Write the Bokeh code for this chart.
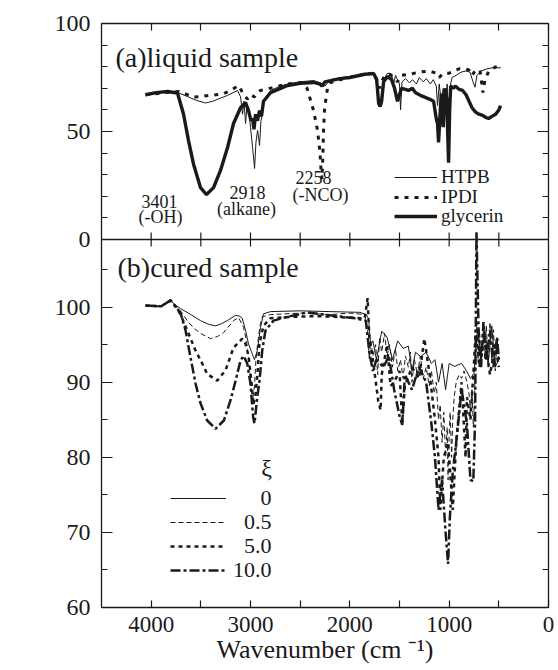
from math import pi
from bokeh.plotting import figure
from bokeh.models import (Range1d, FixedTicker, LinearAxis, Legend, LegendItem, Label, Span)
from bokeh.embed import file_html
from bokeh.resources import INLINE

FONT = "Liberation Serif"
INK = "#1a1a1a"

# ---------------- (a) liquid sample : % Transmittance ----------------
htpb_wn = [4057, 3950, 3850, 3735, 3650, 3550, 3453, 3380, 3300, 3231, 3130, 3100, 3080, 3065,
           3050, 3035, 3020, 3000, 2979, 2959, 2945, 2929, 2918, 2909, 2895, 2879, 2869, 2798,
           2700, 2627, 2500, 2365, 2300, 2250, 2200, 2000, 1850, 1760, 1730, 1710, 1695, 1680,
           1660, 1620, 1580, 1560, 1540, 1500, 1489, 1475, 1440, 1400, 1370, 1330, 1300, 1260,
           1230, 1190, 1160, 1130, 1117, 1100, 1080, 1060, 1040, 1020, 1006, 995, 970, 930, 880,
           830, 790, 760, 740, 720, 680, 620, 560, 480]
htpb_t = [67.4, 67.8, 68.2, 68.0, 66.5, 64.5, 63.2, 64.0, 65.5, 66.7, 69.0, 66.0, 58.0, 64.0,
          53.7, 62.0, 61.0, 52.0, 42.6, 32.9, 45.0, 50.5, 47.0, 43.5, 55.0, 58.0, 64.0, 69.0,
          71.0, 72.0, 73.0, 73.6, 72.5, 71.0, 74.0, 75.5, 76.5, 77.0, 75.0, 66.0, 63.0, 66.0,
          74.0, 77.0, 76.5, 72.0, 76.0, 72.0, 60.0, 73.0, 74.5, 72.5, 74.0, 72.0, 75.0, 73.0,
          74.5, 72.0, 74.0, 71.0, 62.0, 72.0, 64.0, 70.0, 60.0, 72.0, 53.7, 70.0, 75.0, 76.0,
          77.5, 78.0, 77.5, 73.0, 70.5, 76.0, 78.0, 79.0, 79.5, 79.5]

ipdi_wn = [4057, 3950, 3850, 3720, 3600, 3574, 3500, 3423, 3350, 3271, 3200, 3120, 3080, 3050,
           3030, 3000, 2960, 2930, 2900, 2850, 2768, 2650, 2496, 2430, 2415, 2365, 2325, 2300,
           2290, 2280, 2272, 2265, 2255, 2244, 2224, 2200, 2100, 2000, 1850, 1760, 1720, 1700,
           1680, 1650, 1600, 1550, 1520, 1480, 1400, 1300, 1200, 1130, 1100, 1060, 1000, 950,
           900, 850, 800, 770, 740, 690, 660, 640, 600, 550, 480]
ipdi_t = [67.0, 67.5, 68.0, 68.5, 66.5, 66.0, 66.2, 66.7, 67.0, 67.5, 69.0, 71.3, 68.0, 66.0,
          65.0, 67.0, 66.0, 68.0, 69.0, 69.5, 70.4, 71.8, 72.7, 70.0, 67.5, 59.7, 50.5, 40.0,
          32.0, 28.0, 38.0, 50.0, 60.0, 64.0, 70.4, 72.5, 74.0, 75.0, 76.5, 77.0, 73.0, 70.0,
          73.0, 76.0, 76.5, 75.0, 73.0, 76.0, 76.5, 77.5, 78.0, 77.0, 75.0, 77.0, 77.0, 78.0,
          79.0, 79.0, 78.5, 76.0, 78.0, 78.5, 68.0, 74.0, 78.0, 79.5, 81.0]

gly_wn = [4057, 3950, 3835, 3735, 3674, 3624, 3574, 3503, 3443, 3372, 3302, 3231, 3171, 3100,
          3050, 3020, 2995, 2979, 2965, 2949, 2930, 2909, 2890, 2869, 2798, 2627, 2500, 2365,
          2300, 2280, 2250, 2100, 2000, 1850, 1760, 1730, 1710, 1695, 1680, 1660, 1620, 1580,
          1550, 1520, 1500, 1480, 1440, 1409, 1370, 1340, 1318, 1280, 1250, 1200, 1157, 1130,
          1117, 1107, 1095, 1080, 1070, 1060, 1050, 1040, 1025, 1006, 995, 985, 960, 935, 900,
          865, 830, 804, 770, 734, 700, 663, 630, 603, 570, 532, 500, 482]
gly_t = [67.0, 68.0, 68.5, 67.8, 58.0, 45.8, 35.0, 24.0, 20.8, 24.0, 32.0, 42.6, 53.7, 61.0,
         63.4, 59.7, 55.0, 56.0, 51.0, 58.0, 55.0, 59.7, 57.0, 64.0, 68.0, 71.3, 72.3, 72.7,
         72.0, 71.0, 73.0, 74.5, 75.0, 76.5, 76.8, 74.0, 63.0, 61.5, 64.0, 73.0, 75.5, 74.0,
         70.0, 64.0, 67.0, 70.0, 69.5, 69.0, 70.0, 68.0, 67.5, 66.5, 66.0, 65.0, 64.0, 56.0,
         53.7, 45.0, 55.0, 67.6, 60.0, 52.0, 63.0, 70.0, 65.0, 35.6, 60.0, 71.0, 70.0, 71.0,
         69.5, 69.0, 67.0, 64.4, 61.0, 59.0, 58.0, 57.5, 56.5, 56.0, 57.0, 58.0, 60.0, 62.0]

# ---------------- (b) cured sample : % Reflectance ----------------
xi_labels = ["0", "0.5", "5.0", "10.0"]

xi0_wn = [4057, 3900, 3805, 3760, 3704, 3600, 3503, 3420, 3352, 3290, 3234, 3150, 3110, 3083,
          3050, 3020, 2983, 2960, 2932, 2899, 2869, 2798, 2500, 2200, 1900, 1835, 1812, 1790,
          1768, 1732, 1679, 1625, 1571, 1518, 1464, 1411, 1375, 1339, 1286, 1232, 1179, 1143,
          1107, 1071, 1036, 1000, 946, 875, 821, 786, 750, 714, 679, 643, 607, 571, 536, 500]
xi0_r = [100.2, 100.1, 100.9, 100.3, 99.8, 99.0, 98.2, 97.7, 97.5, 97.8, 98.2, 98.9, 98.8, 98.5,
         96.9, 95.1, 93.8, 93.0, 94.2, 97.3, 99.1, 99.4, 99.5, 99.4, 99.3, 99.0, 98.5, 95.0,
         95.5, 93.0, 96.8, 96.0, 93.0, 95.5, 94.5, 94.8, 91.5, 94.0, 93.4, 94.0, 92.5, 93.0,
         90.0, 92.5, 89.0, 92.5, 92.1, 92.5, 91.4, 90.5, 91.2, 97.0, 93.5, 97.0, 92.5, 97.5,
         92.0, 93.0]

xi05_wn = [4057, 3900, 3805, 3760, 3704, 3637, 3570, 3503, 3402, 3330, 3271, 3171, 3120, 3070,
           3040, 3011, 2990, 2975, 2960, 2945, 2929, 2905, 2880, 2800, 2500, 2200, 2000, 1850,
           1821, 1804, 1790, 1768, 1740, 1720, 1700, 1680, 1650, 1625, 1600, 1571, 1540, 1518,
           1490, 1464, 1440, 1411, 1390, 1375, 1350, 1320, 1290, 1260, 1232, 1200, 1179, 1150,
           1130, 1107, 1090, 1071, 1054, 1036, 1020, 1011, 1000, 990, 975, 964, 950, 929, 900,
           875, 850, 821, 800, 786, 770, 757, 745, 732, 720, 710, 696, 679, 660, 643, 625, 607,
           589, 571, 554, 536, 518, 500]
xi05_r = [100.2, 100.1, 100.9, 100.2, 99.5, 98.2, 97.2, 96.5, 95.8, 96.1, 96.6, 98.2, 98.6, 97.3,
          95.5, 92.0, 89.0, 88.0, 89.5, 93.0, 95.0, 97.5, 98.7, 99.0, 99.2, 99.0, 99.2, 99.0,
          97.0, 93.0, 95.5, 93.5, 95.0, 91.0, 96.0, 94.0, 96.5, 93.5, 95.0, 92.0, 94.5, 91.5,
          93.0, 90.5, 93.5, 92.0, 94.0, 90.0, 93.0, 91.0, 93.5, 90.5, 92.0, 89.5, 91.5, 88.5,
          90.0, 85.0, 87.0, 82.0, 86.0, 80.0, 84.0, 77.0, 83.0, 86.0, 80.0, 85.0, 88.0, 90.0,
          91.0, 90.5, 91.5, 90.0, 88.5, 86.0, 89.0, 84.0, 88.0, 95.0, 98.0, 93.0, 97.0, 92.5,
          98.0, 93.0, 97.5, 92.0, 98.0, 93.0, 97.0, 91.5, 96.0, 93.0]

xi5_wn = [4057, 3900, 3805, 3750, 3704, 3637, 3553, 3486, 3436, 3335, 3251, 3171, 3083, 3050,
          3020, 2990, 2970, 2949, 2930, 2911, 2870, 2800, 2600, 2300, 2000, 1850, 1821, 1804,
          1768, 1714, 1690, 1679, 1625, 1590, 1554, 1500, 1472, 1446, 1375, 1304, 1250, 1196,
          1143, 1107, 1089, 1054, 1011, 964, 929, 875, 835, 821, 786, 757, 732, 696, 643, 589,
          536, 500]
xi5_r = [100.2, 100.1, 100.9, 100.0, 99.0, 96.9, 94.2, 92.5, 91.1, 90.2, 91.6, 94.6, 95.8, 95.1,
         93.5, 90.0, 87.0, 88.5, 91.0, 95.0, 97.5, 98.5, 98.7, 98.8, 98.6, 98.5, 101.2, 96.0,
         93.0, 87.5, 86.3, 91.0, 95.0, 89.5, 90.0, 91.5, 84.5, 89.5, 92.0, 90.5, 95.8, 91.0,
         85.0, 80.0, 73.0, 80.0, 82.0, 73.0, 82.0, 90.0, 80.0, 88.0, 85.0, 91.0, 97.0, 92.0,
         96.0, 91.0, 95.0, 92.0]

xi10_wn = [4057, 3900, 3805, 3750, 3704, 3654, 3604, 3553, 3503, 3436, 3352, 3268, 3201, 3150,
           3100, 3070, 3033, 3000, 2973, 2960, 2932, 2909, 2882, 2849, 2768, 2630, 2429, 2200,
           1946, 1839, 1804, 1768, 1732, 1661, 1607, 1554, 1500, 1472, 1446, 1375, 1304, 1232,
           1179, 1143, 1107, 1071, 1036, 1011, 993, 964, 929, 875, 821, 786, 757, 739, 725, 704,
           679, 654, 625, 589, 554, 518, 500]
xi10_r = [100.2, 100.1, 100.9, 100.0, 99.2, 96.9, 93.3, 89.8, 87.2, 84.9, 83.8, 84.9, 87.6, 90.2,
          92.9, 93.5, 92.5, 89.8, 85.3, 84.5, 88.0, 90.2, 94.2, 96.9, 98.2, 98.7, 99.3, 98.9,
          98.5, 98.2, 94.0, 91.5, 93.0, 92.0, 93.5, 89.0, 85.5, 84.3, 91.0, 89.0, 92.0, 90.0,
          84.5, 80.0, 73.0, 77.0, 70.0, 65.8, 72.0, 78.0, 82.0, 89.0, 84.5, 77.0, 76.8, 85.0,
          110.0, 97.0, 92.0, 98.0, 93.0, 97.0, 92.0, 96.0, 93.0]

# ---------------- ticks ----------------
x_major = [0, 1000, 2000, 3000, 4000]
x_minor = [500, 1500, 2500, 3500]
top_y_major = [0, 50, 100]
top_y_minor = [10, 20, 30, 40, 60, 70, 80, 90]
bot_y_major = [60, 70, 80, 90, 100]
bot_y_minor = [65, 75, 85, 95, 105]

# ---------------- layout of the two stacked panels ----------------
TOP_PX, BOT_PX = 216, 368          # pixel heights of panel (a) and panel (b)
BOT_LO, BOT_HI = 60, 109           # % Reflectance range of panel (b)
TOP_LO, TOP_HI = 0, 100            # % Transmittance range of panel (a)
u_per_px = (BOT_HI - BOT_LO) / BOT_PX
top_per_px = (TOP_HI - TOP_LO) / TOP_PX
top_lo_ext = TOP_LO - BOT_PX * top_per_px


def top_to_main(v):
    return round(BOT_HI + (v - TOP_LO) / top_per_px * u_per_px, 6)


main_hi = top_to_main(TOP_HI) + 1e-6

p = figure(width=558, height=670, x_range=Range1d(4500, 0), y_range=Range1d(BOT_LO, main_hi),
           output_backend="svg", toolbar_location=None,
           x_axis_location=None, y_axis_location=None,
           min_border_left=101, min_border_right=10, min_border_top=23, min_border_bottom=63)
p.extra_y_ranges = {"top": Range1d(top_lo_ext, TOP_HI)}
p.outline_line_color = None
p.grid.visible = False
p.background_fill_color = "white"
p.border_fill_color = "white"

# panel (a) curves
r_gly = p.line(gly_wn, gly_t, line_color=INK, line_width=3.4, y_range_name="top")
r_ipdi = p.line(ipdi_wn, ipdi_t, line_color=INK, line_width=3, line_dash="4 6", y_range_name="top")
r_htpb = p.line(htpb_wn, htpb_t, line_color=INK, line_width=1, y_range_name="top")

# panel (b) curves
r10 = p.line(xi10_wn, xi10_r, line_color=INK, line_width=2.5, line_dash="10 3 3 3")
r5 = p.line(xi5_wn, xi5_r, line_color=INK, line_width=2.5, line_dash="4 4")
r05 = p.line(xi05_wn, xi05_r, line_color=INK, line_width=1, line_dash="5 3")
r0 = p.line(xi0_wn, xi0_r, line_color=INK, line_width=1)

# y ticks for both panels on one axis
y_major = bot_y_major + [top_to_main(v) for v in top_y_major]
y_minor = bot_y_minor + [top_to_main(v) for v in top_y_minor]
y_over = {top_to_main(v): str(v) for v in top_y_major}


def add_axis(place, ticks, minor, tin_major, tin_minor, labels):
    ax = LinearAxis(ticker=FixedTicker(ticks=ticks, minor_ticks=minor))
    ax.major_tick_in = tin_major
    ax.major_tick_out = 0
    ax.minor_tick_in = tin_minor
    ax.minor_tick_out = 0
    ax.axis_line_color = INK
    ax.axis_line_width = 1.3
    ax.major_tick_line_color = INK
    ax.minor_tick_line_color = INK
    ax.major_tick_line_width = 1.2
    ax.minor_tick_line_width = 1.2
    if labels:
        ax.major_label_text_font = FONT
        ax.major_label_text_font_size = "24px"
        ax.major_label_text_color = INK
    else:
        ax.major_label_overrides = {t: "" for t in ticks}
        ax.major_label_text_font_size = "0px"
        ax.major_label_standoff = 0
    p.add_layout(ax, place)
    return ax


axl = add_axis("left", y_major, y_minor, 11, 6, True)
axl.major_label_overrides = y_over
axl.major_label_standoff = 11
add_axis("right", y_major, y_minor, 11, 6, False)
add_axis("above", x_major, x_minor, 7, 7, False)
axb = add_axis("below", x_major, x_minor, 7, 7, True)
axb.major_label_text_font_size = "23px"
axb.major_label_standoff = 9
axb.axis_label = "Wavenumber (cm \u207b\u00b9)"
axb.axis_label_text_font = FONT
axb.axis_label_text_font_size = "26px"
axb.axis_label_text_font_style = "normal"
axb.axis_label_text_color = INK
axb.axis_label_standoff = 0

# divider between the panels with ticks up and down
p.add_layout(Span(location=BOT_HI, dimension="width", line_color=INK, line_width=1.3))
mid_ticks = [t for t in x_major + x_minor if 0 < t < 4500]
p.scatter(mid_ticks, [BOT_HI] * len(mid_ticks), marker="dash", angle=pi / 2, size=14,
          line_color=INK, line_width=1.2)

# y-axis titles, centred on each panel
p.add_layout(Label(x=4500, y=(TOP_LO + TOP_HI) / 2, y_range_name="top", x_offset=-81,
                   text="% Transmittance", angle=pi / 2, text_font=FONT, text_font_size="28px",
                   text_align="center", text_baseline="middle", text_color=INK))
p.add_layout(Label(x=4500, y=(BOT_LO + BOT_HI) / 2 - 1, x_offset=-81,
                   text="% Reflectance", angle=pi / 2, text_font=FONT, text_font_size="28px",
                   text_align="center", text_baseline="middle", text_color=INK))


def legend_row(label, renderer, loc, gw, gh, fs, standoff):
    lg = Legend(items=[LegendItem(label=label, renderers=[renderer])], location=loc,
                orientation="vertical", border_line_color=None, background_fill_alpha=0,
                padding=0, margin=0, spacing=0, glyph_width=gw, glyph_height=gh,
                label_height=gh, label_standoff=standoff,
                label_text_font=FONT, label_text_font_size=fs, label_text_color=INK)
    p.add_layout(lg)


# legend of panel (a): one row per series so the rows sit as tight as in the original
for lab, r, yb in [("HTPB", r_htpb, 418), ("IPDI", r_ipdi, 398), ("glycerin", r_gly, 379)]:
    legend_row(lab, r, (293, yb), 43, 24, "19px", 4)

# legend of panel (b), numbers right-aligned with figure spaces
pads = ["\u2007\u2007\u2008", "\u2007", "\u2007", ""]
for i, (r, yb) in enumerate([(r0, 95), (r05, 71), (r5, 47), (r10, 23)]):
    legend_row(pads[i] + xi_labels[i], r, (69, yb), 56, 28, "22px", 7)

top_texts = [("(a)liquid sample", 4359, 84.3, "left", "28px"),
             ("3401", 3916, 17.6, "center", "18px"),
             ("(-OH)", 3906, 10.2, "center", "18px"),
             ("2918", 3030, 21.8, "center", "18px"),
             ("(alkane)", 3040, 13.9, "center", "18px"),
             ("2258", 2365, 28.7, "center", "18px"),
             ("(-NCO)", 2295, 20.8, "center", "18px")]
for t, x, y, al, fs in top_texts:
    p.add_layout(Label(x=x, y=y, y_range_name="top", text=t, text_font=FONT, text_font_size=fs,
                       text_align=al, text_baseline="middle", text_color=INK))

p.add_layout(Label(x=4339, y=105.3, text="(b)cured sample", text_font=FONT,
                   text_font_size="28px", text_align="left", text_baseline="middle",
                   text_color=INK))
p.add_layout(Label(x=2838, y=78.6, text="\u03be", text_font=FONT,
                   text_font_size="24px", text_align="center", text_baseline="middle",
                   text_color=INK))

open("out.html", "w").write(file_html(p, INLINE))
